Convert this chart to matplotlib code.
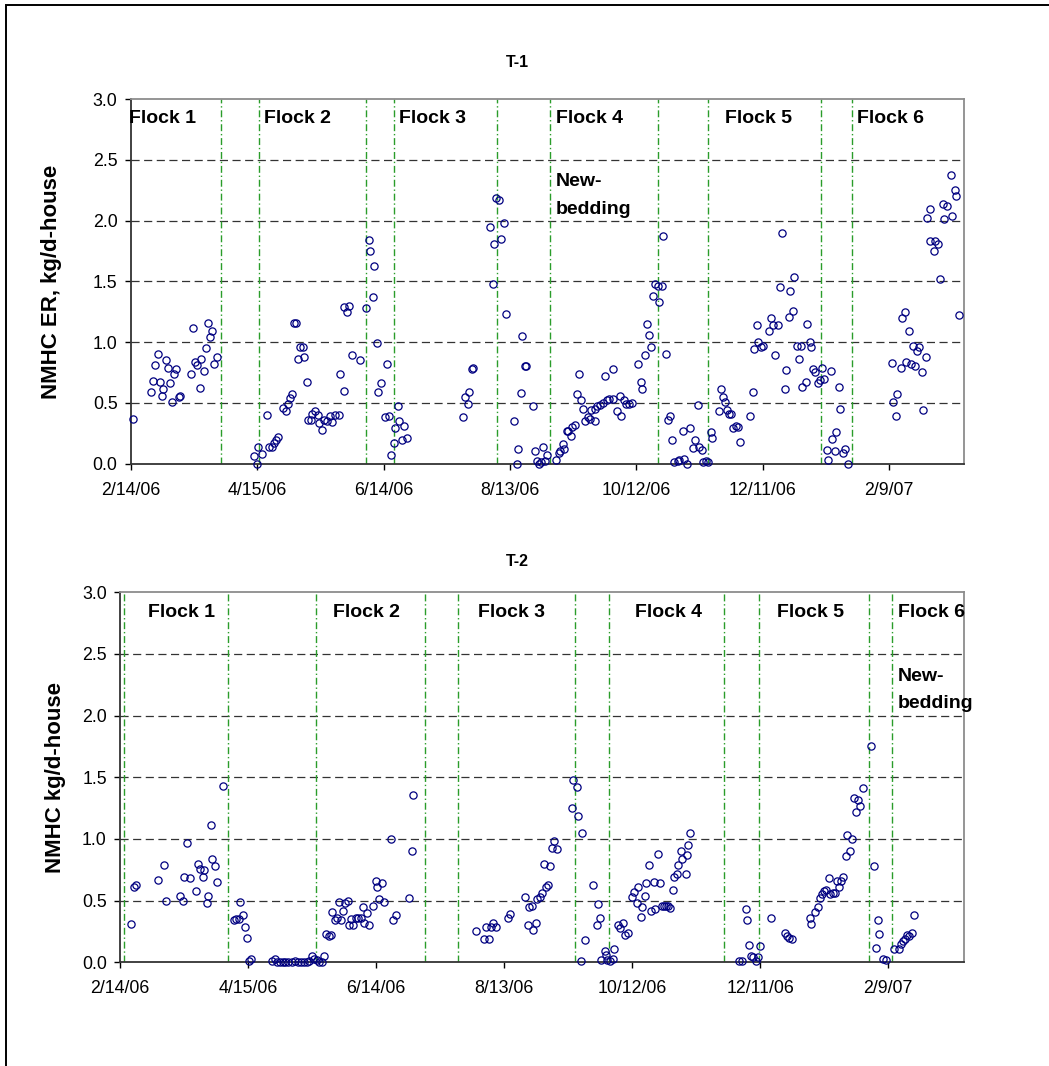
import numpy as np
import matplotlib
matplotlib.use("Agg")
import matplotlib.pyplot as plt
import matplotlib.dates as mdates
from matplotlib.patches import Rectangle
from datetime import datetime

plt.rcParams['font.family'] = ['Liberation Sans', 'DejaVu Sans']

# ---------------- data (days since 2/14/06) ----------------
base_date = datetime(2006, 2, 14)
x_span_days = 395.5
tick_days = [0, 60, 120, 180, 240, 300, 360]
tick_labels = ["2/14/06", "4/15/06", "6/14/06", "8/13/06", "10/12/06", "12/11/06", "2/9/07"]
y_ticks = [0.0, 0.5, 1.0, 1.5, 2.0, 2.5, 3.0]

# T-1
t1_days = [1, 9.7, 10.8, 11.5, 13, 13.8, 15, 15.5, 16.8, 17.6, 18.8, 19.5, 20.7, 21.7, 22.8, 23.6,
           28.8, 29.4, 30.7, 31.5, 32.9, 33.5, 34.8, 35.6, 36.9, 37.5, 38.8, 39.6, 40.8,
           58.7, 59.8, 60.6, 62.2, 64.5, 65.8, 66.9, 68, 68.8, 70.1, 72.5, 73.7, 74.5, 75.8, 76.6,
           77.5, 78.5, 79.6, 80.2, 81.8, 82.4, 83.7, 84.3, 85.6, 86.2, 87.5, 89, 89.5, 91, 91.7,
           93, 94.6, 95.6, 97, 99, 99.5, 101,
           101.2, 102.8, 103.8, 105, 108.8, 111.5, 113, 113.6, 114.9, 115.5, 116.9, 117.5, 118.8,
           120.7, 121.5, 122.8, 123.6, 124.8, 125.6, 127, 127.3, 128.9, 129.6, 131,
           157.9, 158.5, 159.9, 160.7, 161.8, 162.6, 170.7, 172, 172.6, 173.5, 174.6, 175.9, 177,
           178, 181.8, 183.4, 183.8, 185.1, 185.9, 187, 187.8, 191.1, 191.9, 192.8, 193.8, 194.7,
           195.7, 196.6, 197.7,
           201.7, 203.1, 203.8, 205, 205.8, 206.9, 207.7, 209.1, 209.6, 211, 211.7, 212.9, 213.6,
           214.8, 215.6, 216.9, 217.8, 218.5, 220.4, 220.6, 221.2, 222.7, 224.3, 225.1, 225.9,
           227.2, 228.8, 229.1, 230.7, 232.2, 232.9, 234.1, 235.1, 236.5, 238.1, 240.9, 242,
           242.8, 244.1, 244.9, 246.2, 247, 248.1, 248.9, 250.1, 250.8, 252, 252.8, 254.1, 254.9,
           256, 256.8, 258, 259.6,
           260.2, 261.9, 262.7, 263.8, 265.3, 267, 268, 269.4, 269.9, 271.1, 271.8, 272.9, 274.1,
           275.2, 275.9,
           279.2, 280, 281.3, 282, 283.1, 284.1, 285, 285.8, 287.1, 288.1, 289, 293.9, 295.2, 296,
           297.1, 297.9, 299.1, 299.9, 303.1, 303.7, 305, 305.8, 307, 308.3, 308.9, 310.5, 311,
           312.4, 312.9, 314.3, 315, 316.1, 317.2, 318.3, 318.7, 320.3, 321.1, 322.4, 323, 324,
           325, 326.2, 327.1, 328.1, 328.9, 330.3, 331.1, 332.3, 332.8, 334.1, 334.9, 336.1,
           336.8, 338.2, 339.2, 340.3,
           361.3, 361.9, 363.4, 363.8, 365.4, 366, 367.3, 367.9, 369.4, 370.2, 371.1, 372.2, 373,
           374, 375.4, 376, 377.3, 377.8, 379.3, 379.5, 381.2, 381.6, 383.3, 383.9, 385.3, 386,
           387.2, 389.1, 389.9, 391, 391.7, 393.3]
t1_vals = [0.37, 0.59, 0.68, 0.81, 0.90, 0.67, 0.56, 0.61, 0.85, 0.79, 0.66, 0.51, 0.74, 0.78, 0.55, 0.56,
           0.74, 1.12, 0.84, 0.81, 0.62, 0.86, 0.76, 0.95, 1.16, 1.04, 1.09, 0.82, 0.88,
           0.06, 0.00, 0.14, 0.08, 0.40, 0.14, 0.14, 0.17, 0.19, 0.22, 0.46, 0.43, 0.49, 0.54, 0.57,
           1.16, 1.16, 0.86, 0.96, 0.96, 0.88, 0.67, 0.36, 0.36, 0.41, 0.43, 0.40, 0.33, 0.28, 0.36,
           0.35, 0.39, 0.34, 0.40, 0.40, 0.74, 0.60,
           1.29, 1.25, 1.30, 0.89, 0.85, 1.28, 1.84, 1.75, 1.37, 1.63, 0.99, 0.59, 0.66,
           0.38, 0.82, 0.39, 0.07, 0.17, 0.29, 0.47, 0.35, 0.19, 0.31, 0.21,
           0.38, 0.55, 0.49, 0.59, 0.78, 0.79, 1.95, 1.48, 1.81, 2.19, 2.17, 1.85, 1.98,
           1.23, 0.35, 0.00, 0.12, 0.58, 1.05, 0.80, 0.80, 0.47, 0.10, 0.02, 0.00, 0.01,
           0.14, 0.02, 0.07,
           0.03, 0.09, 0.10, 0.16, 0.12, 0.27, 0.27, 0.23, 0.30, 0.32, 0.57, 0.74, 0.52,
           0.45, 0.35, 0.38, 0.37, 0.44, 0.35, 0.45, 0.47, 0.48, 0.50, 0.72, 0.52,
           0.53, 0.78, 0.53, 0.43, 0.56, 0.39, 0.52, 0.49, 0.49, 0.50, 0.82, 0.67,
           0.61, 0.89, 1.15, 1.06, 0.96, 1.38, 1.48, 1.46, 1.33, 1.46, 1.87, 0.90, 0.36,
           0.39, 0.19, 0.01, 0.02,
           0.03, 0.27, 0.04, 0.00, 0.29, 0.13, 0.19, 0.48, 0.14, 0.11, 0.01, 0.02, 0.01,
           0.26, 0.21,
           0.43, 0.61, 0.55, 0.51, 0.44, 0.41, 0.41, 0.29, 0.31, 0.30, 0.18, 0.39, 0.59, 0.94,
           1.14, 1.00, 0.96, 0.97, 1.09, 1.20, 1.14, 0.89, 1.14, 1.45, 1.90, 0.61, 0.77,
           1.21, 1.42, 1.26, 1.54, 0.97, 0.86, 0.97, 0.63, 0.67, 1.15, 1.00, 0.96, 0.78,
           0.75, 0.66, 0.69, 0.79, 0.70, 0.11, 0.03, 0.76, 0.20, 0.10, 0.26, 0.63,
           0.45, 0.09, 0.12, 0.00,
           0.83, 0.51, 0.39, 0.57, 0.79, 1.20, 1.25, 0.84, 1.09, 0.82, 0.97, 0.80, 0.93,
           0.96, 0.75, 0.44, 0.88, 2.02, 2.10, 1.83, 1.75, 1.83, 1.81, 1.52, 2.14, 2.01,
           2.12, 2.38, 2.04, 2.25, 2.20, 1.22]

# T-2
t2_days = [5.3, 6.6, 7.5, 17.7, 20.5, 21.6, 28.3, 29.5, 30.1, 31.4, 32.8, 35.5, 36.7, 37.3, 38.7,
           39.5, 40.6, 41.4, 42.6, 43.3, 44.7, 45.3, 48.4, 53.4, 54.4, 55.6, 56.4, 57.8, 58.4,
           59.7, 60.3, 61.5, 71.2, 72.6, 73.4, 75, 76.2, 77.5, 78.9, 80.4, 82.2, 83.4, 84.8, 86.1,
           87.5, 88.4, 89.8, 91, 92.2, 93.1, 94.8, 95.8, 96.5, 97.8, 99, 99.5, 100.7, 101.5,
           102.6, 103.6, 104.7, 105.6, 106.8, 107.2, 108.2, 109.2, 110.6, 111.7, 112.9, 113.9,
           114.5, 115.9, 116.7, 118.4, 119.8, 120.4, 121.5, 122.7, 123.7, 127, 127.7, 129.1,
           135.5, 136.7, 137.5,
           166.9, 170.8, 171.5, 173, 173.7, 174.7, 176.1, 181.7, 182.8, 189.7, 191.1, 191.5,
           193.1, 193.7, 195.1, 195.6, 196.7, 197.6, 198.9, 199.4, 200.6, 201.5, 202.5, 203.4,
           205, 211.8, 212.5, 214, 214.7, 215.9, 216.5, 218.1, 221.8, 223.3, 223.9, 225, 225.6,
           227.3, 227.8, 228.4, 229.7, 230.9, 231.7, 233.2, 234.3, 235.6, 236.7, 237.9, 239.8,
           240.9, 242.1, 242.8, 244.2, 244.8, 246.1, 246.7, 248.1, 248.6, 250, 250.7, 252,
           253.2, 253.9, 255, 255.9, 257, 257.8, 259.2, 259.8, 260.9, 261.7, 262.9, 263.5,
           265.1, 265.6, 266.4, 267.3,
           289.9, 291.4, 293.3, 293.8, 294.9, 295.5, 296.8, 297.8, 299.1, 299.9, 304.9, 311.7,
           312.5, 313.3, 314.7, 323.3, 323.9, 325.8, 327.1, 327.8, 329.1, 329.9, 331, 332.4,
           332.8, 334.1, 334.9, 336, 336.9, 337.8, 338.9, 340, 340.6, 342.2, 342.8, 343.8,
           344.7, 345.8, 346.7, 348, 351.9, 353.3, 354.1, 355.2, 355.8, 357.5, 359.1,
           362.8, 365, 365.8, 366.7, 367.8, 368.9, 369.9, 371, 372.2]
t2_vals = [0.31, 0.61, 0.63, 0.67, 0.79, 0.50, 0.54, 0.50, 0.69, 0.97, 0.68, 0.58, 0.80, 0.76, 0.69,
           0.75, 0.48, 0.54, 1.11, 0.84, 0.78, 0.65, 1.43, 0.34, 0.35, 0.35, 0.49, 0.38, 0.29,
           0.20, 0.01, 0.03, 0.01, 0.03, 0.00, 0.00, 0.00, 0.00, 0.00, 0.00, 0.01, 0.00, 0.00, 0.00,
           0.00, 0.01, 0.05, 0.03, 0.02, 0.00, 0.00, 0.05, 0.23, 0.21, 0.22, 0.41, 0.34, 0.36,
           0.49, 0.34, 0.42, 0.48, 0.50, 0.30, 0.35, 0.30, 0.36, 0.36, 0.36, 0.45,
           0.32, 0.40, 0.30, 0.46, 0.66, 0.61, 0.51, 0.64, 0.49, 1.00, 0.34, 0.38,
           0.52, 0.90, 1.36,
           0.25, 0.19, 0.29, 0.19, 0.29, 0.32, 0.29, 0.36, 0.39, 0.53, 0.30, 0.45,
           0.46, 0.26, 0.32, 0.51, 0.53, 0.56, 0.80, 0.61, 0.63, 0.78, 0.93, 0.98,
           0.92, 1.25, 1.48, 1.42, 1.19, 0.01, 1.05, 0.18, 0.63, 0.30, 0.47, 0.36, 0.02,
           0.09, 0.06, 0.02, 0.01, 0.03, 0.11, 0.30, 0.28, 0.32, 0.22, 0.24, 0.53,
           0.57, 0.48, 0.61, 0.37, 0.45, 0.54, 0.64, 0.79, 0.42, 0.65, 0.43, 0.88,
           0.64, 0.46, 0.46, 0.46, 0.46, 0.44, 0.59, 0.69, 0.72, 0.79, 0.90, 0.84,
           0.72, 0.87, 0.95, 1.05,
           0.01, 0.01, 0.43, 0.34, 0.14, 0.05, 0.04, 0.01, 0.04, 0.13, 0.36, 0.24,
           0.21, 0.20, 0.19, 0.36, 0.31, 0.41, 0.45, 0.52, 0.55, 0.58, 0.59, 0.68,
           0.55, 0.56, 0.56, 0.66, 0.61, 0.66, 0.69, 0.86, 1.03, 0.90, 1.00, 1.33,
           1.22, 1.32, 1.27, 1.41, 1.75, 0.78, 0.12, 0.34, 0.23, 0.03, 0.02,
           0.11, 0.11, 0.15, 0.17, 0.19, 0.22, 0.21, 0.24, 0.38]

# flock boundary markers (days)
t1_bounds = [42.7, 60.7, 111.7, 124.8, 174.0, 199.0, 250.4, 274.0, 327.6, 342.2]
t2_bounds = [2.0, 50.5, 91.8, 142.9, 158.6, 213.2, 229.0, 283.2, 299.6, 350.8, 361.9]

flock_names = ["Flock 1", "Flock 2", "Flock 3", "Flock 4", "Flock 5", "Flock 6"]
t1_label_days = [-0.8, 63.3, 127.3, 201.8, 282.0, 344.7]
t2_label_days = [13.1, 99.7, 167.6, 241.5, 308.0, 364.4]
t1_newbed_day = 201.8
t2_newbed_day = 364.4

# ---------------- figure ----------------
W, H = 1049, 1066
fig = plt.figure(figsize=(W / 100, H / 100), dpi=100)

# outer chart-area border
fig.patches.append(Rectangle((6 / W, 1 - 1072 / H), (1049 + 10) / W, 1067 / H,
                             transform=fig.transFigure, fill=False, edgecolor='#000000',
                             linewidth=1.4, zorder=0))

b0 = mdates.date2num(base_date)


def to_x(days):
    return b0 + np.asarray(days, dtype=float)


def setup(ax, days, vals, bounds, label_days, newbed_day):
    ax.set_xlim(to_x(0), to_x(x_span_days))
    ax.set_ylim(0, 3.0)
    for v in y_ticks[1:-1]:
        ax.axhline(v, color='#333333', lw=0.9, ls=(0, (6.5, 3.6)), zorder=1)
    for b in bounds:
        ax.axvline(to_x(b), color='#2a9d2a', lw=1.0, ls=(0, (5, 2, 1, 2)), zorder=2)
    ax.plot(to_x(days), vals, 'o', mfc='none', mec='#000080', ms=5.2, mew=0.9,
            clip_on=False, zorder=3)
    ax.set_xticks(to_x(tick_days))
    ax.set_xticklabels(tick_labels)
    ax.set_yticks(y_ticks)
    ax.set_yticklabels([f"{v:.1f}" for v in y_ticks])
    ax.tick_params(direction='out', length=4.5, width=1.0, labelsize=12.8,
                   colors='#000000')
    ax.tick_params(axis='x', pad=8.5)
    ax.tick_params(axis='y', pad=5)
    for s in ['left', 'bottom']:
        ax.spines[s].set_color('#333333')
        ax.spines[s].set_linewidth(1.3)
    for s in ['top', 'right']:
        ax.spines[s].set_color('#8c8c8c')
        ax.spines[s].set_linewidth(1.3)
    for name, d in zip(flock_names, label_days):
        ax.text(to_x(d), 2.84, name, ha='left', va='center', fontsize=14,
                fontweight='bold', clip_on=False, zorder=4)
    ax.text(to_x(newbed_day), 2.32, "New-", ha='left', va='center', fontsize=14,
            fontweight='bold', clip_on=False, zorder=4)
    ax.text(to_x(newbed_day), 2.095, "bedding", ha='left', va='center', fontsize=14,
            fontweight='bold', clip_on=False, zorder=4)


ax1 = fig.add_axes([130.7 / W, 1 - 463.5 / H, (964 - 130.7) / W, (463.5 - 99.3) / H])
setup(ax1, t1_days, t1_vals, t1_bounds, t1_label_days, t1_newbed_day)
ax2 = fig.add_axes([120 / W, 1 - 962.3 / H, (964 - 120) / W, (962.3 - 592.3) / H])
setup(ax2, t2_days, t2_vals, t2_bounds, t2_label_days, t2_newbed_day)

fig.text(517 / W, 1 - 62.7 / H, "T-1", ha='center', va='center', fontsize=11.5, fontweight='bold')
fig.text(517.5 / W, 1 - 561.8 / H, "T-2", ha='center', va='center', fontsize=11.5, fontweight='bold')
fig.text(52 / W, 1 - 281.4 / H, "NMHC ER, kg/d-house", rotation=90, ha='center', va='center',
         fontsize=16, fontweight='bold')
fig.text(56 / W, 1 - 777.3 / H, "NMHC kg/d-house", rotation=90, ha='center', va='center',
         fontsize=16, fontweight='bold')

fig.savefig("out.png", dpi=100)
